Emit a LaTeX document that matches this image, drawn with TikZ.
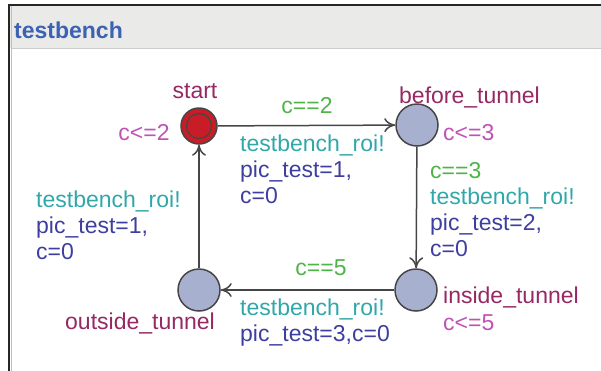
\documentclass[tikz,border=0pt]{standalone}
\usepackage{fontspec}
\setmainfont{Liberation Sans}
\usepackage{xcolor}
\usetikzlibrary{arrows.meta,
	positioning,
	calc}

% colours of the automaton editor
\definecolor{locname}{RGB}{150,40,100}
\definecolor{invcol}{RGB}{192,82,182}
\definecolor{guardcol}{RGB}{78,180,72}
\definecolor{synccol}{RGB}{48,168,170}
\definecolor{updcol}{RGB}{62,62,160}
\definecolor{titlecol}{RGB}{60,98,180}
\definecolor{barcol}{RGB}{234,234,232}
\definecolor{locfill}{RGB}{168,176,208}
\definecolor{initfill}{RGB}{200,28,38}
\definecolor{edgecol}{RGB}{70,70,70}

\tikzset{
	loc/.style={circle, draw=edgecol, line width=1.5pt, fill=locfill, minimum size=42pt, inner sep=0pt},
	initloc/.style={loc, fill=initfill, minimum size=36pt},
	txt/.style={inner sep=0pt, font=\fontsize{23}{26}\selectfont},
	lbl/.style={txt, align=left, anchor=north west},
	trans/.style={draw=edgecol, line width=1.5pt, ->}
}

\begin{document}
\begin{tikzpicture}[x=1pt, y=-1pt, >={To[length=11pt,width=14pt]}]
	\useasboundingbox (0,0) rectangle (601,370);
	\clip (0,0) rectangle (601,370);
	% template frame with its title bar
	\fill[barcol] (10,6) rectangle (620,48);
	\draw[gray!40, line width=1pt] (11,48) -- (620,48);
	\draw[gray!50, line width=1pt] (11,6) -- (11,390);
	\draw[black!85, line width=1.6pt] (9,390) -- (9,5) -- (620,5);
	\node[txt, anchor=base west, text=titlecol, font=\fontsize{23}{26}\selectfont\bfseries] (title) at (14,38) {testbench};

	% locations
	\node[initloc] (start) at (199,126) {};
	\draw[edgecol, line width=1.2pt] (start) circle (12.5);
	\node[loc] (before) at (417,125) {};
	\node[loc] (inside) at (416,290) {};
	\node[loc] (outside) at (199,290) {};

	% names and invariants
	\node[txt, anchor=base, text=locname] (startname) at (195,98) {start};
	\node[txt, anchor=base, text=invcol] (startinv) at (144,140) {c<=2};
	\node[txt, anchor=base west, text=locname] (beforename) at (399,103) {before\_tunnel};
	\node[txt, anchor=base west, text=invcol] (beforeinv) at (443,140) {c<=3};
	\node[txt, anchor=base west, text=locname] (insidename) at (443,303) {inside\_tunnel};
	\node[txt, anchor=base west, text=invcol] (insideinv) at (443,330) {c<=5};
	\node[txt, anchor=base west, text=locname] (outsidename) at (65,329) {outside\_tunnel};

	% transitions
	\draw[trans] (start) -- (before);
	\draw[trans] (before) -- (inside);
	\draw[trans] (inside) -- (outside);
	\draw[trans] (outside) -- (start);

	% guards, synchronisations and updates
	\node[txt, anchor=base, text=guardcol] (g1) at (307,113) {c==2};
	\node[lbl] (l1) at (240,135) {\textcolor{synccol}{testbench\_roi!}\\
		\textcolor{updcol}{pic\_test=1,}\\
		\textcolor{updcol}{c=0}};
	\node[lbl] (l2) at (430,162.5) {\textcolor{guardcol}{c==3}\\
		\textcolor{synccol}{testbench\_roi!}\\
		\textcolor{updcol}{pic\_test=2,}\\
		\textcolor{updcol}{c=0}};
	\node[txt, anchor=base, text=guardcol] (g3) at (321,275) {c==5};
	\node[lbl] (l3) at (240,299) {\textcolor{synccol}{testbench\_roi!}\\
		\textcolor{updcol}{pic\_test=3,c=0}};
	\node[lbl] (l4) at (36,191) {\textcolor{synccol}{testbench\_roi!}\\
		\textcolor{updcol}{pic\_test=1,}\\
		\textcolor{updcol}{c=0}};
\end{tikzpicture}
\end{document}
